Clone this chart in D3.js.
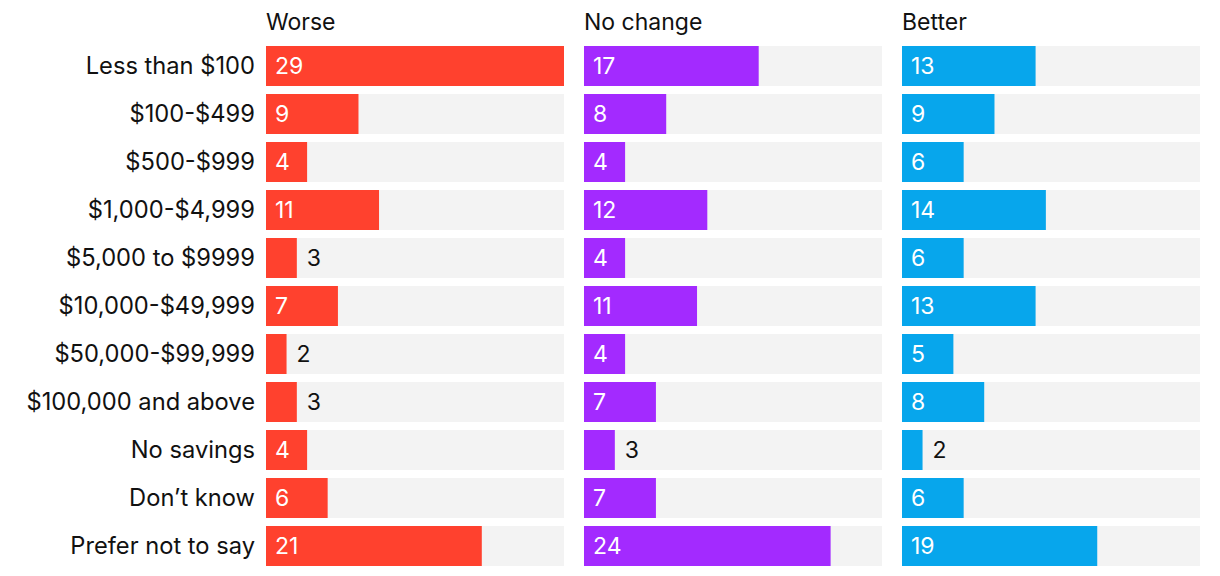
<!DOCTYPE html>
<html>
<head>
<meta charset="utf-8">
<script src="https://cdn.jsdelivr.net/npm/d3@7"></script>
<style>
  body { margin: 0; background: #fff; }
  svg text { font-family: Inter, "Open Sans", sans-serif; }
</style>
</head>
<body>
<svg></svg>
<script>
const size = { w: 1220, h: 576 };
const margin = { t: 46, l: 266 };
const fontSize = 23;

const categories = [
  "Less than $100", "$100-$499", "$500-$999", "$1,000-$4,999",
  "$5,000 to $9999", "$10,000-$49,999", "$50,000-$99,999",
  "$100,000 and above", "No savings", "Don\u2019t know", "Prefer not to say"
];
const groups = ["Worse", "No change", "Better"];
const worse = [29, 9, 4, 11, 3, 7, 2, 3, 4, 6, 21];
const noChange = [17, 8, 4, 12, 4, 11, 4, 7, 3, 7, 24];
const better = [13, 9, 6, 14, 6, 13, 5, 8, 2, 6, 19];
const seriesValues = [worse, noChange, better];
const colors = ["#ff412e", "#a32aff", "#07a6ec"];

const svg = d3.select("svg").attr("width", size.w).attr("height", size.h);

const panelW = 298, panelGap = 20;
const px = d3.scaleBand()
  .domain(groups)
  .range([margin.l, margin.l + 3 * panelW + 2 * panelGap])
  .paddingInner(panelGap / (panelW + panelGap));

const y = d3.scaleBand()
  .domain(categories)
  .range([margin.t - 4, margin.t - 4 + 48 * categories.length])
  .paddingInner(8 / 48)
  .paddingOuter(4 / 48);

const x = d3.scaleLinear().domain([0, 29]).range([0, panelW]);

// row labels
svg.append("g").selectAll("text")
  .data(categories)
  .join("text")
  .attr("x", margin.l - 11)
  .attr("y", d => y(d) + y.bandwidth() / 2)
  .attr("dy", "0.35em")
  .attr("text-anchor", "end")
  .attr("font-size", 23.7)
  .attr("fill", "#111")
  .text(d => d);

groups.forEach((g, gi) => {
  const pg = svg.append("g").attr("transform", `translate(${px(g)},0)`);

  pg.append("text")
    .attr("x", 0)
    .attr("y", 22)
    .attr("dy", "0.35em")
    .attr("font-size", fontSize)
    .attr("fill", "#111")
    .text(g);

  const rows = pg.selectAll("g.row")
    .data(categories.map((c, i) => ({ c, v: seriesValues[gi][i] })))
    .join("g")
    .attr("transform", d => `translate(0,${y(d.c)})`);

  rows.append("rect")
    .attr("width", panelW)
    .attr("height", y.bandwidth())
    .attr("fill", "#f3f3f3");

  rows.append("rect")
    .attr("width", d => x(d.v))
    .attr("height", y.bandwidth())
    .attr("fill", colors[gi]);

  rows.append("text")
    .attr("x", d => d.v > 3 ? 9 : x(d.v) + 10)
    .attr("y", y.bandwidth() / 2)
    .attr("dy", "0.35em")
    .attr("font-size", fontSize)
    .attr("fill", d => d.v > 3 ? "#fff" : "#111")
    .text(d => d.v);
});
</script>
</body>
</html>
